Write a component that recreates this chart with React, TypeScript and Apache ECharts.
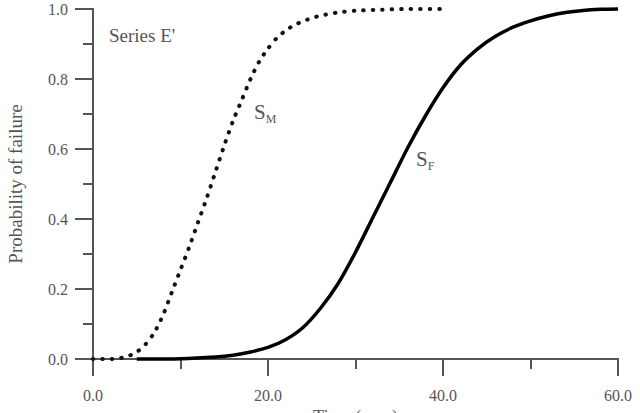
import React, { useEffect, useRef } from "react";
import * as echarts from "echarts";

const smTime = [0, 1, 2, 3, 4, 5, 6, 7, 8, 9, 10, 11, 12, 13, 14, 15, 16, 17, 18, 19, 20, 21, 22, 23, 24, 25, 26, 28, 30, 33, 36, 40];
const smProb = [0, 0, 0, 0.002, 0.008, 0.02, 0.042, 0.075, 0.125, 0.19, 0.255, 0.32, 0.39, 0.46, 0.535, 0.61, 0.68, 0.74, 0.8, 0.85, 0.887, 0.917, 0.938, 0.954, 0.965, 0.974, 0.981, 0.99, 0.995, 0.998, 1.0, 1.0];

const sfTime = [5, 10, 14, 16, 18, 20, 22, 24, 26, 28, 30, 32, 34, 36, 38, 40, 42, 44, 46, 48, 50, 52, 54, 56, 58, 60];
const sfProb = [0, 0.001, 0.006, 0.011, 0.02, 0.033, 0.055, 0.09, 0.145, 0.215, 0.305, 0.405, 0.505, 0.605, 0.695, 0.775, 0.84, 0.887, 0.922, 0.948, 0.966, 0.98, 0.99, 0.996, 0.999, 1.0];

const xTicks = [0, 20, 40, 60];
const yTicks = [0, 0.2, 0.4, 0.6, 0.8, 1.0];

const FONT = "'Liberation Serif', 'Times New Roman', serif";
const AXIS = "#555";
const TEXT = "#555";

export default function App() {
  const ref = useRef<HTMLDivElement>(null);
  useEffect(() => {
    if (!ref.current) return;
    const chart = echarts.init(ref.current, null, { renderer: "svg" });
    const axisLine = { show: true, lineStyle: { color: AXIS, width: 2 } };
    chart.setOption({
      animation: false,
      backgroundColor: "#fff",
      grid: { left: 93, right: 22, top: 9, bottom: 54, containLabel: false, outerBoundsMode: "none" },
      xAxis: [
        {
          type: "value",
          min: xTicks[0],
          max: xTicks[xTicks.length - 1],
          interval: 20,
          name: "Time (year)",
          nameLocation: "middle",
          nameGap: 46,
          nameTextStyle: { fontFamily: FONT, fontSize: 18, color: TEXT },
          axisLine,
          axisTick: { show: true, inside: false, length: 17, lineStyle: { color: AXIS, width: 2 } },
          minorTick: { show: true, splitNumber: 2, length: 10, lineStyle: { color: AXIS, width: 2 } },
          splitLine: { show: false },
          axisLabel: {
            margin: 28,
            fontFamily: FONT,
            fontSize: 16,
            color: TEXT,
            formatter: (v: number) => v.toFixed(1),
          },
        },
        {
          type: "value",
          position: "top",
          min: 0,
          max: 60,
          axisLine,
          axisTick: { show: false },
          axisLabel: { show: false },
          splitLine: { show: false },
        },
      ],
      yAxis: [
        {
          type: "value",
          min: yTicks[0],
          max: yTicks[yTicks.length - 1],
          interval: 0.2,
          axisLine,
          axisTick: { show: true, inside: false, length: 18, lineStyle: { color: AXIS, width: 2 } },
          minorTick: { show: true, splitNumber: 2, length: 10, lineStyle: { color: AXIS, width: 2 } },
          splitLine: { show: false },
          axisLabel: {
            margin: 25,
            fontFamily: FONT,
            fontSize: 16,
            color: TEXT,
            formatter: (v: number) => v.toFixed(1),
          },
        },
        {
          type: "value",
          position: "right",
          min: 0,
          max: 1,
          axisLine,
          axisTick: { show: false },
          axisLabel: { show: false },
          splitLine: { show: false },
        },
      ],
      graphic: [
        {
          type: "text",
          x: 15,
          y: 184,
          rotation: Math.PI / 2,
          style: {
            text: "Probability of failure",
            fontFamily: FONT,
            fontSize: 19,
            fill: TEXT,
            align: "center",
            verticalAlign: "middle",
          },
        },
        {
          type: "text",
          x: 109,
          y: 26,
          style: { text: "Series E'", fontFamily: FONT, fontSize: 19, fill: TEXT },
        },
        {
          type: "text",
          x: 254,
          y: 101,
          style: {
            text: "{s|S}{sub|M}",
            rich: {
              s: { fontFamily: FONT, fontSize: 21, fill: TEXT, verticalAlign: "top" },
              sub: { fontFamily: FONT, fontSize: 12, fill: TEXT, padding: [12, 0, 0, 0], verticalAlign: "top" },
            },
          },
        },
        {
          type: "text",
          x: 416,
          y: 148,
          style: {
            text: "{s|S}{sub|F}",
            rich: {
              s: { fontFamily: FONT, fontSize: 21, fill: TEXT, verticalAlign: "top" },
              sub: { fontFamily: FONT, fontSize: 12, fill: TEXT, padding: [12, 0, 0, 0], verticalAlign: "top" },
            },
          },
        },
      ],
      series: [
        {
          type: "line",
          data: smTime.map((t, i) => [t, smProb[i]]),
          showSymbol: false,
          smooth: 0.25,
          clip: false,
          lineStyle: { color: "#111", width: 4, type: [0.5, 9], cap: "round" },
        },
        {
          type: "line",
          data: sfTime.map((t, i) => [t, sfProb[i]]),
          showSymbol: false,
          smooth: 0.25,
          clip: false,
          lineStyle: { color: "#000", width: 3.5 },
        },
      ],
    });
    return () => chart.dispose();
  }, []);
  return <div ref={ref} style={{ width: 640, height: 413, position: "absolute", left: 0, top: 0 }} />;
}
